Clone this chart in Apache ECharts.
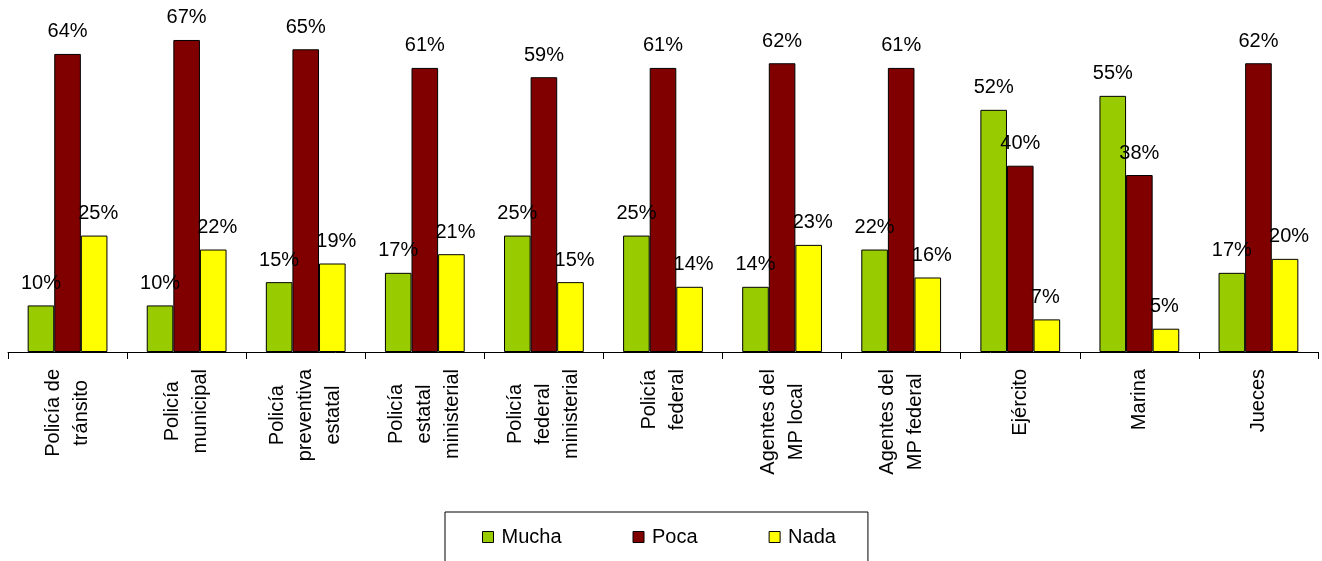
<!DOCTYPE html>
<html>
<head>
<meta charset="utf-8">
<script src="https://cdn.jsdelivr.net/npm/echarts@6/dist/echarts.min.js"></script>
<style>
html,body{margin:0;padding:0;background:#fff;}
#chart{width:1322px;height:561px;}
</style>
</head>
<body>
<div id="chart"></div>
<script>
const categories = [
  'Policía de\ntránsito',
  'Policía\nmunicipal',
  'Policía\npreventiva\nestatal',
  'Policía\nestatal\nministerial',
  'Policía\nfederal\nministerial',
  'Policía\nfederal',
  'Agentes del\nMP local',
  'Agentes del\nMP federal',
  'Ejército',
  'Marina',
  'Jueces'
];
const seriesNames = ['Mucha', 'Poca', 'Nada'];
const mucha = [10, 10, 15, 17, 25, 25, 14, 22, 52, 55, 17];
const poca  = [64, 67, 65, 61, 59, 61, 62, 61, 40, 38, 62];
const nada  = [25, 22, 19, 21, 15, 14, 23, 16, 7, 5, 20];
const colors = ['#99CC00', '#800000', '#FFFF00'];

const FONT = '"Liberation Sans", Arial, sans-serif';
const LABEL_SIZE = 20;
const LABEL_GAP = 17;     // distance from axis line to the start of each rotated label
const LINE_STEP = 28;     // spacing between the lines of a rotated label

function mkSeries(name, data, color, labelExtra) {
  return {
    name: name,
    type: 'bar',
    data: data,
    barGap: '0%',
    barCategoryGap: '33%',
    itemStyle: { color: color, borderColor: '#000', borderWidth: 1 },
    label: Object.assign({
      show: true,
      position: 'top',
      distance: 12,
      formatter: '{c}%',
      color: '#000',
      fontSize: 20,
      fontFamily: FONT
    }, labelExtra || {}),
    emphasis: { disabled: true }
  };
}

const chart = echarts.init(document.getElementById('chart'), null, { renderer: 'canvas' });
chart.setOption({
  animation: false,
  backgroundColor: '#fff',
  grid: { left: 8, right: 4, top: 26, bottom: 209, containLabel: false },
  legend: {
    data: seriesNames,
    left: 445,
    top: 512,
    orient: 'horizontal',
    padding: [15, 32, 15, 37],
    itemGap: 71,
    itemWidth: 11,
    itemHeight: 11,
    borderColor: '#000',
    borderWidth: 1,
    icon: 'rect',
    itemStyle: { borderColor: '#000', borderWidth: 1 },
    textStyle: { color: '#000', fontSize: 20, fontFamily: FONT, padding: [0, 0, 0, 3] }
  },
  xAxis: {
    type: 'category',
    data: categories,
    boundaryGap: true,
    axisLine: { show: true, lineStyle: { color: '#000', width: 1 } },
    axisTick: { show: true, length: 7, lineStyle: { color: '#000' }, alignWithLabel: false },
    axisLabel: { show: false, interval: 0 },
    splitLine: { show: false }
  },
  yAxis: {
    type: 'value',
    min: 0,
    max: 70,
    show: false,
    splitLine: { show: false }
  },
  series: [
    mkSeries(seriesNames[0], mucha, colors[0]),
    mkSeries(seriesNames[1], poca, colors[1]),
    mkSeries(seriesNames[2], nada, colors[2], { align: 'left', offset: [-16, 0] })
  ]
});

// Category labels: rotated, lines centred on each other, each block starting
// LABEL_GAP px below the axis line. Positions come from the chart's own axes.
const ctx = document.createElement('canvas').getContext('2d');
ctx.font = LABEL_SIZE + 'px ' + FONT;
const axisY = chart.convertToPixel({ yAxisIndex: 0 }, 0);
const labelGraphics = [];
categories.forEach(function (c, i) {
  const lines = c.split('\n');
  const w = Math.max.apply(null, lines.map(function (s) { return ctx.measureText(s).width; }));
  const cx = chart.convertToPixel({ xAxisIndex: 0 }, i);
  lines.forEach(function (s, k) {
    labelGraphics.push({
      type: 'text',
      x: cx + (k - (lines.length - 1) / 2) * LINE_STEP,
      y: axisY + LABEL_GAP + w / 2,
      rotation: Math.PI / 2,
      silent: true,
      style: {
        text: s,
        fill: '#000',
        fontSize: LABEL_SIZE,
        fontFamily: FONT,
        align: 'center',
        verticalAlign: 'middle'
      }
    });
  });
});
chart.setOption({ graphic: labelGraphics });
</script>
</body>
</html>
